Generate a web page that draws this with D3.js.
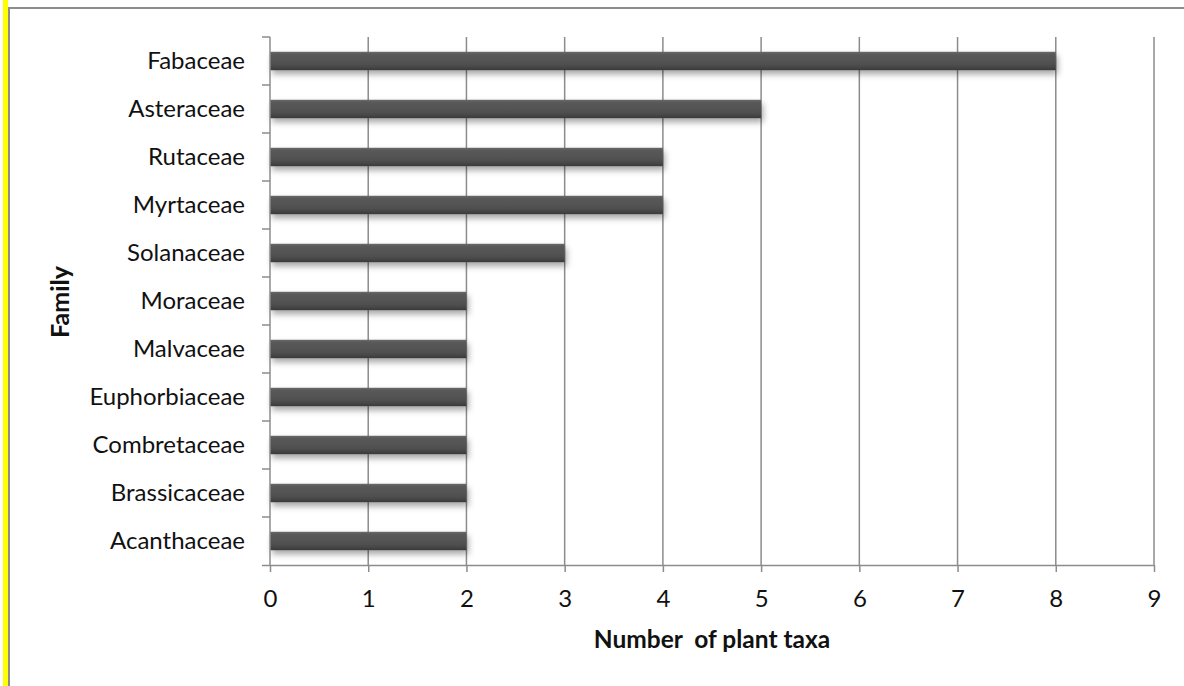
<!DOCTYPE html>
<html>
<head>
<meta charset="utf-8">
<script src="https://cdn.jsdelivr.net/npm/d3@7"></script>
<style>
  html, body { margin: 0; padding: 0; background: #fff; }
  svg { display: block; }
  text { font-family: Lato, "Open Sans", sans-serif; fill: #111; }
</style>
</head>
<body>
<svg id="chart" width="1184" height="686"></svg>
<script>
// Plant families and their number of taxa
const families = ["Fabaceae", "Asteraceae", "Rutaceae", "Myrtaceae", "Solanaceae",
  "Moraceae", "Malvaceae", "Euphorbiaceae", "Combretaceae", "Brassicaceae", "Acanthaceae"];
const taxaCounts = [8, 5, 4, 4, 3, 2, 2, 2, 2, 2, 2];
const xTicks = [0, 1, 2, 3, 4, 5, 6, 7, 8, 9];
const xTitle = "Number\u00a0 of plant taxa";
const yTitle = "Family";

const svg = d3.select("#chart");
const plotLeft = 270, plotRight = 1154, plotTop = 37, plotBottom = 565;
const axisColor = "#8c8c8c";
const labelSize = 24;

// frame: yellow strip on the left, grey border
svg.append("rect").attr("x", 3).attr("y", 0).attr("width", 5).attr("height", 686).attr("fill", "#ffff00");
svg.append("line").attr("x1", 9).attr("x2", 9).attr("y1", 7).attr("y2", 686)
  .attr("stroke", "#8c8c8c").attr("stroke-width", 2);
svg.append("line").attr("x1", 8).attr("x2", 1184).attr("y1", 8).attr("y2", 8)
  .attr("stroke", "#8c8c8c").attr("stroke-width", 2);

const x = d3.scaleLinear().domain([0, 9]).range([plotLeft, plotRight]);
const y = d3.scaleBand().domain(families).range([plotTop, plotBottom])
  .paddingInner(0.615).paddingOuter(0.3075);

// shading for the bars
const defs = svg.append("defs");
const grad = defs.append("linearGradient").attr("id", "barGrad")
  .attr("x1", 0).attr("x2", 0).attr("y1", 0).attr("y2", 1);
grad.append("stop").attr("offset", "0%").attr("stop-color", "#6a6a6a");
grad.append("stop").attr("offset", "12%").attr("stop-color", "#5a5a5a");
grad.append("stop").attr("offset", "70%").attr("stop-color", "#4f4f4f");
grad.append("stop").attr("offset", "100%").attr("stop-color", "#3a3a3a");
const shadow = defs.append("filter").attr("id", "shadow")
  .attr("x", "-10%").attr("y", "-50%").attr("width", "130%").attr("height", "250%");
shadow.append("feDropShadow").attr("dx", 2).attr("dy", 4).attr("stdDeviation", 3)
  .attr("flood-color", "#000").attr("flood-opacity", 0.35);

// vertical gridlines
svg.append("g").selectAll("line").data(xTicks.slice(1)).join("line")
  .attr("x1", d => x(d)).attr("x2", d => x(d))
  .attr("y1", plotTop).attr("y2", plotBottom)
  .attr("stroke", axisColor).attr("stroke-width", 1.5);

// bars
svg.append("g").selectAll("rect").data(families).join("rect")
  .attr("x", x(0))
  .attr("y", d => y(d))
  .attr("width", (d, i) => x(taxaCounts[i]) - x(0))
  .attr("height", y.bandwidth())
  .attr("fill", "url(#barGrad)")
  .attr("filter", "url(#shadow)");

// x axis
const xAxis = svg.append("g").attr("transform", `translate(0,${plotBottom})`)
  .call(d3.axisBottom(x).tickValues(xTicks).tickFormat(d3.format("d")).tickSize(7).tickPadding(18));
xAxis.select(".domain").attr("stroke", axisColor).attr("stroke-width", 1.5)
  .attr("d", `M${plotLeft - 8},0.5H${plotRight}`);
xAxis.selectAll(".tick line").attr("stroke", axisColor).attr("stroke-width", 1.5);
xAxis.selectAll(".tick text").attr("font-size", labelSize)
  .attr("font-family", "Lato, sans-serif").attr("fill", "#111");

// y axis with ticks on band boundaries
const yAxis = svg.append("g").attr("transform", `translate(${plotLeft},0)`);
yAxis.append("line").attr("x1", 0).attr("x2", 0).attr("y1", plotTop).attr("y2", plotBottom)
  .attr("stroke", axisColor).attr("stroke-width", 1.5);
const step = y.step();
yAxis.selectAll("line.tk").data(d3.range(families.length)).join("line").attr("class", "tk")
  .attr("x1", -8).attr("x2", 0)
  .attr("y1", i => plotTop + i * step).attr("y2", i => plotTop + i * step)
  .attr("stroke", axisColor).attr("stroke-width", 1.5);
yAxis.selectAll("text").data(families).join("text")
  .attr("x", -25)
  .attr("y", d => y(d) + y.bandwidth() / 2)
  .attr("dy", "0.35em")
  .attr("text-anchor", "end")
  .attr("font-size", labelSize)
  .text(d => d);

// axis titles
svg.append("text").attr("x", 712).attr("y", 648).attr("text-anchor", "middle")
  .attr("font-size", 24.5).attr("font-weight", "bold").text(xTitle);
svg.append("text").attr("transform", "translate(69,302) rotate(-90)").attr("text-anchor", "middle")
  .attr("font-size", 25).attr("font-weight", "bold").text(yTitle);
</script>
</body>
</html>
